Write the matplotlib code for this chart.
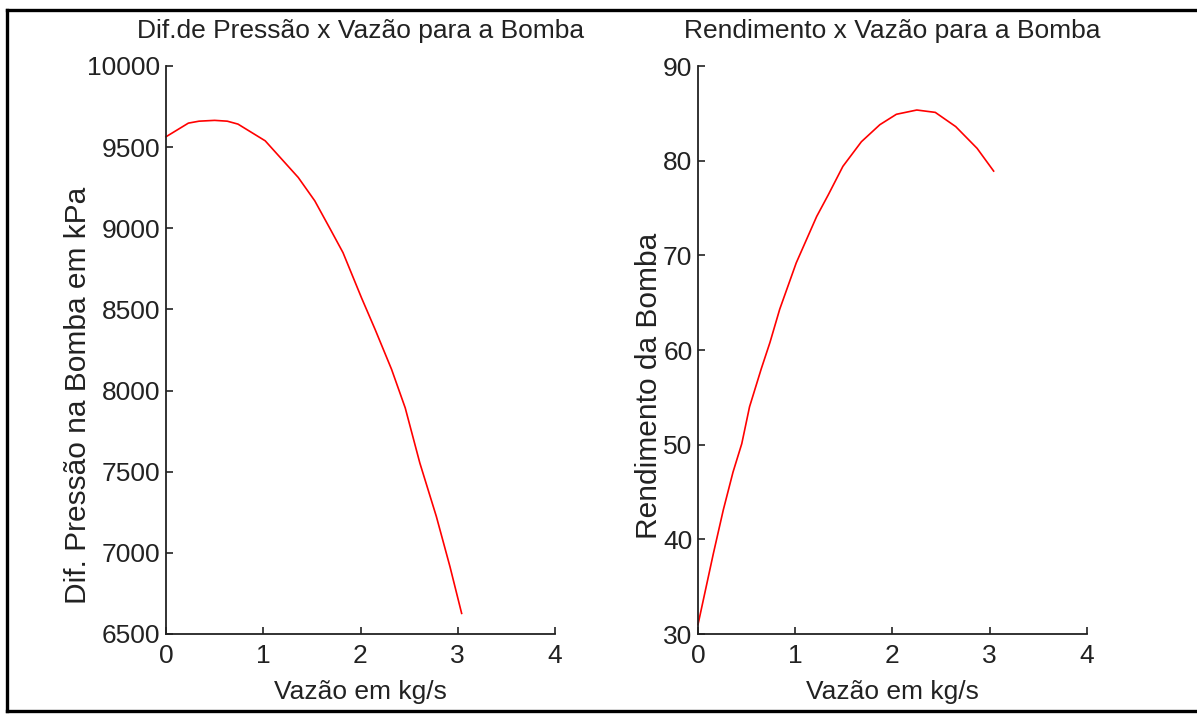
import matplotlib
matplotlib.use("Agg")
import matplotlib.pyplot as plt
from matplotlib.lines import Line2D

# Data
vazao_p = [0.0, 0.23, 0.34, 0.50, 0.63, 0.74, 1.02, 1.36, 1.53, 1.69, 1.82,
           2.01, 2.15, 2.32, 2.46, 2.61, 2.78, 2.92, 3.04]
pressao = [9564, 9648, 9660, 9665, 9660, 9642, 9539, 9313, 9169, 8994, 8850,
           8572, 8377, 8130, 7893, 7554, 7224, 6915, 6627]

vazao_r = [0.0, 0.158, 0.26, 0.36, 0.45, 0.53, 0.65, 0.74, 0.84, 1.01, 1.22,
           1.34, 1.49, 1.68, 1.87, 2.04, 2.25, 2.44, 2.65, 2.87, 3.04]
rendimento = [31.0, 38.5, 43.1, 47.1, 50.1, 54.0, 58.0, 60.8, 64.3, 69.2, 74.1,
              76.4, 79.4, 82.0, 83.8, 84.9, 85.35, 85.1, 83.6, 81.3, 78.9]

x_ticks = [0, 1, 2, 3, 4]
p_ticks = [6500, 7000, 7500, 8000, 8500, 9000, 9500, 10000]
r_ticks = [30, 40, 50, 60, 70, 80, 90]

titles = ["Dif.de Pressão x Vazão para a Bomba", "Rendimento x Vazão para a Bomba"]
ylabels = ["Dif. Pressão na Bomba em kPa", "Rendimento da Bomba"]
xlabel = "Vazão em kg/s"

plt.rcParams['font.family'] = ['Liberation Sans Narrow', 'Liberation Sans', 'DejaVu Sans']
FS = 19
FS_Y = 21.5

W, H = 1197, 715
fig = plt.figure(figsize=(W / 100, H / 100), dpi=100)

ax_w = 389 / W
ax_h = 568 / H
ax_b = (H - 634) / H
ax1 = fig.add_axes([166 / W, ax_b, ax_w, ax_h])
ax2 = fig.add_axes([698 / W, ax_b, ax_w, ax_h])

specs = [
    (ax1, vazao_p, pressao, p_ticks, (6500, 10000), titles[0], ylabels[0], -0.226, 0.42),
    (ax2, vazao_r, rendimento, r_ticks, (30, 90), titles[1], ylabels[1], -0.127, 0.437),
]

for ax, xs, ys, yt, yl, title, ylab, ylx, yly in specs:
    ax.plot(xs, ys, color='#ff0000', lw=1.2, clip_on=False)
    ax.set_xlim(0, 4)
    ax.set_ylim(*yl)
    ax.set_xticks(x_ticks)
    ax.set_yticks(yt)
    ax.spines['top'].set_visible(False)
    ax.spines['right'].set_visible(False)
    for s in ('left', 'bottom'):
        ax.spines[s].set_linewidth(1.3)
        ax.spines[s].set_color('#222222')
    ax.tick_params(direction='in', length=5, width=1.2, colors='#222222',
                   labelsize=FS, labelcolor='#222222')
    ax.tick_params(axis='x', pad=7)
    ax.tick_params(axis='y', pad=4)
    ax.set_title(title, fontsize=FS, color='#222222', pad=20)
    ax.set_ylabel(ylab, fontsize=FS_Y, color='#222222')
    ax.yaxis.set_label_coords(ylx, yly)
    ax.set_xlabel(xlabel, fontsize=FS, color='#222222')
    ax.xaxis.set_label_coords(0.5, -0.102)
    ax.xaxis.label.set_va('center')
    ax.yaxis.label.set_va('center')

# Figure border (top, left, bottom)
lw = 2.4
fig.add_artist(Line2D([7 / W, 1.0], [1 - 10 / H, 1 - 10 / H], transform=fig.transFigure, color='black', lw=lw))
fig.add_artist(Line2D([7 / W, 7 / W], [1 - 10 / H, 1 - 711 / H], transform=fig.transFigure, color='black', lw=lw))
fig.add_artist(Line2D([7 / W, 1.0], [1 - 711 / H, 1 - 711 / H], transform=fig.transFigure, color='black', lw=lw))

fig.savefig("out.png", dpi=100)
